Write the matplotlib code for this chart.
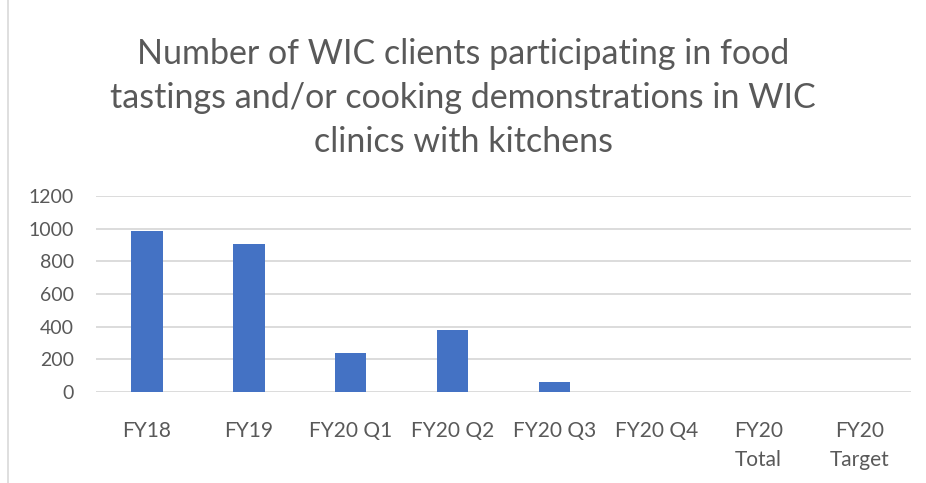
import matplotlib.pyplot as plt
from matplotlib.lines import Line2D

categories = ["FY18", "FY19", "FY20 Q1", "FY20 Q2", "FY20 Q3", "FY20 Q4",
              "FY20\nTotal", "FY20\nTarget"]
clients = [985, 905, 240, 382, 63, 0, 0, 0]
y_ticks = [0, 200, 400, 600, 800, 1000, 1200]

plt.rcParams["font.family"] = ["Lato", "DejaVu Sans"]

fig = plt.figure(figsize=(9.26, 4.83), dpi=100)
ax = fig.add_axes([96 / 926, 1 - 392 / 483, 815 / 926, (392 - 196) / 483])

x = range(len(categories))
ax.bar(x, clients, width=0.31, color="#4472C4", zorder=3)

ax.set_xlim(-0.5, len(categories) - 0.5)
ax.set_ylim(0, 1200)
ax.set_yticks(y_ticks)
ax.set_xticks(list(x))
ax.set_xticklabels(categories)
ax.grid(axis="y", color="#d9d9d9", linewidth=1.3, zorder=0)
for s in ax.spines.values():
    s.set_visible(False)
ax.tick_params(length=0, colors="#595959")
ax.tick_params(axis="x", labelsize=15, pad=21)
ax.tick_params(axis="y", labelsize=14, pad=16)
for lbl in ax.get_xticklabels():
    lbl.set_linespacing(1.55)

fig.text(0.5, 1 - 98 / 483,
         "Number of WIC clients participating in food\n"
         "tastings and/or cooking demonstrations in WIC\n"
         "clinics with kitchens",
         ha="center", va="center", fontsize=24.5, color="#595959",
         linespacing=1.45)

# chart-area border on the left edge
fig.add_artist(Line2D([8 / 926, 8 / 926], [0, 1], transform=fig.transFigure,
                      color="#d9d9d9", linewidth=1.2))

fig.savefig("out.png", dpi=100)
